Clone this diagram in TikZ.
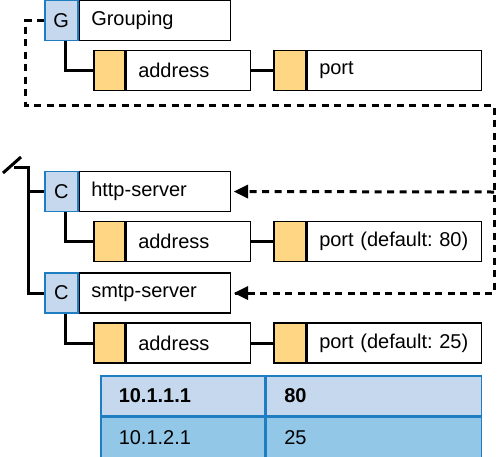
\documentclass[tikz,border=0pt]{standalone}
\usepackage{fontspec}
\setmainfont{Liberation Sans}
\usetikzlibrary{positioning,arrows.meta}
\definecolor{iconblue}{HTML}{C5D8EE}
\definecolor{edgeblue}{HTML}{1F7DC1}
\definecolor{keyyellow}{HTML}{FFD683}
\definecolor{rowlight}{HTML}{C5D8EE}
\definecolor{rowdark}{HTML}{93C7E8}
\tikzset{
	icon/.style={draw=edgeblue,fill=iconblue,line width=1.5pt,minimum width=33pt,minimum height=40pt,inner sep=0pt,anchor=west},
	namebox/.style={draw,fill=white,line width=1.5pt,minimum height=40pt,inner xsep=12pt,inner ysep=0pt,align=left},
	keybox/.style={draw,fill=keyyellow,line width=1.5pt,minimum width=31pt,minimum height=40pt,inner sep=0pt,anchor=west},
	link/.style={line width=3pt},
	ref/.style={line width=3pt,dash pattern=on 7pt off 5.5pt},
	cell/.style={draw=edgeblue,line width=1.5pt,minimum height=40pt,inner xsep=18pt,inner ysep=0pt,align=left,anchor=north west}
}
\frenchspacing
\begin{document}
\begin{tikzpicture}[x=1pt,y=-1pt,font=\fontsize{20}{24}\selectfont,line join=miter]
	\useasboundingbox (0,0) rectangle (498,456);
	% the three blocks, each with its address and port
	\foreach \n/\ic/\y/\title/\port in {g/G/20.5/Grouping/port,h/C/191.5/http-server/port (default: 80),s/C/293/smtp-server/port (default: 25)}{
		\node[icon] (\n) at (44,\y) {\ic};
		\node[namebox,text width=127pt] (\n-name) [right=0pt of \n] {\title};
		\node[keybox] (\n-addrkey) at (93,{\y+50}) {};
		\node[namebox,text width=100pt] (\n-addr) [right=0pt of \n-addrkey] {address};
		\node[keybox,minimum width=32pt] (\n-portkey) at (273,{\y+50}) {};
		\node[namebox,text width=150pt] (\n-port) [right=0pt of \n-portkey] {\port};
		\draw[link] ([xshift=4pt]\n.south) |- (\n-addrkey.west);
		\draw[link] (\n-addr.east) -- (\n-portkey.west);
	}
	% tree on the left
	\coordinate (root) at (28,167);
	\coordinate (cut1) at (3,173);
	\coordinate (cut2) at (21,157);
	\draw[link] (cut1) -- (cut2);
	\draw[link] (14,167) -- (root) |- (s.west);
	\draw[link] (root |- h.west) -- (h.west);
	% reference from the grouping
	\coordinate (turn) at (494,192);
	\draw[ref] (g.west) -| (25,105) -| (turn) |- ([xshift=3pt]s-name.east);
	\draw[ref] (turn) -- ([xshift=3pt]h-name.east);
	\fill ([xshift=3pt]h-name.east) -- ++(14,-7) -- ++(0,14) -- cycle;
	\fill ([xshift=3pt]s-name.east) -- ++(14,-7) -- ++(0,14) -- cycle;
	% table
	\node[cell,fill=rowlight,text width=128pt] (ip1) at (100,375) {\bfseries 10.1.1.1};
	\node[cell,fill=rowlight,text width=179pt] (port1) [right=0pt of ip1] {\bfseries 80};
	\node[cell,fill=rowdark,text width=128pt] (ip2) [below=0pt of ip1] {10.1.2.1};
	\node[cell,fill=rowdark,text width=179pt] (port2) [right=0pt of ip2] {25};
\end{tikzpicture}
\end{document}
